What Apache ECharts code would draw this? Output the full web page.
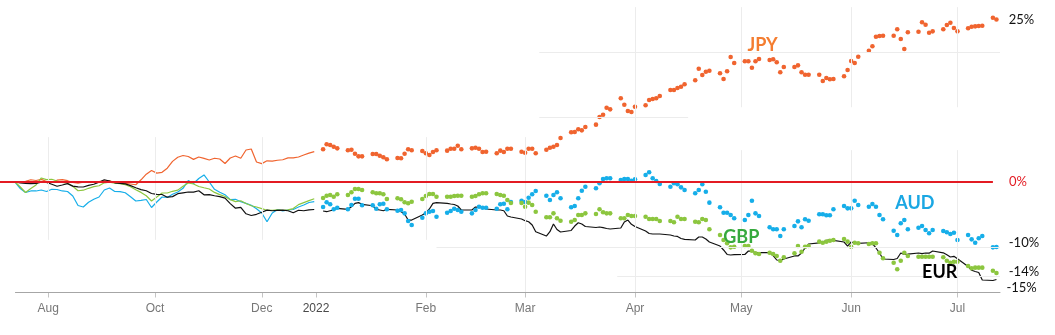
<!DOCTYPE html>
<html>
<head>
<meta charset="utf-8">
<script src="https://cdn.jsdelivr.net/npm/echarts@6.0.0/dist/echarts.min.js"></script>
<style>
  html, body { margin: 0; padding: 0; background: #fff; }
  #chart { width: 1055px; height: 335px; }
</style>
</head>
<body>
<div id="chart"></div>
<script>
// Currencies against the US dollar, % change since mid-July 2021.
// Second half of 2021 is drawn as thin lines on a compressed scale,
// 2022 as daily dots (EUR stays a line) on a wider scale.

const DAY = 86400000;
function ts(s) { const p = s.split('-').map(Number); return new Date(p[0], p[1] - 1, p[2]).getTime(); }
function everyNDays(start, step, count) {
  const out = []; const t0 = ts(start);
  for (let i = 0; i < count; i++) out.push(t0 + i * step * DAY);
  return out;
}
function weekdays(start, count) {
  const out = []; let d = new Date(ts(start));
  while (out.length < count) {
    const wd = d.getDay();
    if (wd !== 0 && wd !== 6) out.push(d.getTime());
    d = new Date(d.getFullYear(), d.getMonth(), d.getDate() + 1);
  }
  return out;
}

// ---- x domains ----
const dates2021 = everyNDays('2021-07-13', 3, 58);
const dates2022 = weekdays('2022-01-03', 137);

// ---- tick labels ----
const MONTHS = ['Jan','Feb','Mar','Apr','May','Jun','Jul','Aug','Sep','Oct','Nov','Dec'];
const ticks2021 = ['2021-08-01', '2021-10-01', '2021-12-01'];
const ticks2022 = ['2022-01-01', '2022-02-01', '2022-03-01', '2022-04-01', '2022-05-01', '2022-06-01', '2022-07-01'];

// ---- 2021 (% change) ----
const jpy2021 = [0,0,0.12,0.35,0.23,0.40,0.08,-0.08,0.28,0.37,
  0.20,-0.08,-0.17,-0.02,0.05,0.05,0.05,0.17,0.20,-0.08,
  -0.11,-0.20,-0.31,-0.42,0.34,1.20,1.77,1.37,1.49,2.12,
  3.17,3.80,4.08,3.92,3.48,3.85,3.63,3.38,3.65,3.54,
  2.85,3.69,4.00,3.65,4.92,5.08,3.08,2.83,3.26,3.20,
  3.35,3.42,3.71,3.72,3.85,4.15,4.45,4.68];
const aud2021 = [0,-1.00,-1.62,-1.38,-1.38,-1.23,-1.46,-1.12,-1.15,-1.38,
  -1.46,-2.15,-3.62,-3.85,-3.12,-2.66,-2.31,-1.23,-0.92,-1.46,
  -1.49,-1.65,-2.26,-2.92,-2.82,-2.69,-3.92,-3.08,-2.31,-2.38,
  -1.89,-1.54,-0.97,0.23,-0.23,0.54,1.08,0.00,-1.12,-1.57,
  -1.95,-2.71,-2.66,-3.03,-3.29,-3.58,-4.12,-4.77,-6.12,-4.77,
  -4.23,-4.43,-4.31,-4.23,-3.85,-3.54,-3.15,-3.03];
const gbp2021 = [0,-0.77,-1.62,-1.00,-0.46,0.62,0.37,0.42,0.15,-0.08,
  -0.18,-0.65,-1.35,-1.26,-0.97,-0.72,-0.58,-0.12,-0.03,-0.18,
  -0.26,-0.42,-0.74,-1.20,-1.60,-2.12,-2.92,-2.31,-1.69,-1.69,
  -1.43,-1.25,-0.66,-0.15,-0.31,-0.69,-0.89,-1.08,-1.60,-1.95,
  -2.23,-2.72,-3.02,-2.88,-3.31,-3.66,-3.85,-4.09,-4.34,-4.38,
  -4.29,-4.37,-4.29,-4.09,-3.48,-3.17,-2.86,-2.58];
const eur2021 = [0,-0.15,-0.20,-0.25,-0.20,-0.02,-0.05,-0.34,-0.65,-0.46,
  -0.25,-0.63,-0.74,-0.77,-0.51,-0.35,-0.03,0.35,0.15,-0.12,
  -0.20,-0.28,-0.55,-0.89,-1.17,-1.35,-1.77,-1.91,-1.92,-2.34,
  -2.25,-1.80,-1.66,-1.54,-1.55,-1.35,-1.97,-1.94,-2.12,-2.25,
  -2.48,-3.32,-4.03,-3.89,-4.89,-5.15,-4.97,-4.65,-4.32,-4.42,
  -4.38,-4.34,-4.42,-4.74,-4.35,-4.42,-4.28,-4.23];

// ---- 2022 daily (% change) ----
const jpy2022 = [5.03,5.80,5.69,5.43,5.18,4.88,4.97,4.35,3.95,3.95,
  4.31,4.31,4.05,3.80,3.49,3.69,3.65,4.35,5.03,4.88,
  4.77,4.42,4.15,4.62,4.88,4.82,5.12,5.12,5.58,5.03,
  5.18,5.28,5.12,4.62,4.66,4.42,4.82,4.62,5.12,5.12,
  4.66,4.51,5.12,5.12,4.42,4.97,5.28,5.43,5.69,6.77,
  7.65,7.69,8.11,7.95,8.46,8.82,10.00,10.35,11.43,11.18,
  12.88,11.89,10.92,10.77,11.58,11.80,12.62,12.77,12.88,13.23,
  14.15,14.15,14.46,14.66,15.03,15.65,17.43,16.46,16.97,17.12,
  16.72,15.85,17.03,19.23,18.31,18.57,18.57,17.58,18.57,18.92,
  18.77,18.88,18.42,16.88,17.69,17.69,17.95,16.88,16.51,16.51,
  16.51,15.54,16.00,15.80,15.85,16.26,17.23,18.62,18.31,19.28,
  20.20,20.88,22.35,22.46,22.51,22.51,23.49,22.00,20.46,23.03,
  23.12,24.57,24.20,22.97,23.18,23.49,24.15,24.51,23.69,23.18,
  23.65,23.89,23.95,24.00,24.05,25.28,25];
const aud2022 = [-3.85,-3.12,-3.43,-4.20,-3.95,-4.20,-3.54,-2.57,-2.57,-3.58,
  -3.58,-4.11,-3.43,-3.34,-4.20,-4.42,-4.31,-4.82,-6.00,-6.62,
  -5.49,-4.82,-4.57,-4.46,-5.34,-4.72,-4.46,-4.11,-4.31,-4.57,
  -4.82,-4.31,-3.80,-3.95,-3.95,-4.11,-3.43,-3.34,-4.20,-3.08,
  -2.88,-3.08,-2.42,-1.89,-1.38,-2.11,-2.77,-2.00,-1.58,-2.51,
  -3.89,-3.69,-2.51,-1.34,-0.72,-0.97,-0.20,0.46,0.57,0.57,
  0.31,0.46,0.46,0.20,0.42,1.08,1.49,0.57,0.15,-0.31,
  -0.72,-0.20,-0.35,-0.82,-1.23,-1.74,-1.23,-0.35,-1.49,-3.18,
  -3.89,-4.72,-4.72,-5.08,-5.58,-5.85,-5.08,-2.88,-4.82,-5.23,
  -6.97,-7.28,-7.28,-8.31,-7.28,-6.77,-6.05,-6.97,-5.74,-5.95,
  -4.97,-4.97,-5.12,-5.12,-4.20,-3.69,-4.05,-4.05,-2.88,-3.54,
  -3.80,-3.38,-3.80,-5.08,-5.74,-7.49,-8.15,-6.35,-5.85,-7.28,
  -7.03,-6.77,-7.38,-7.89,-7.38,-7.54,-7.74,-8.00,-7.80,-8.92,
  -8.15,-8.82,-9.34,-8.66,-8.31,-10.05,-10];
const gbp2022 = [-2.46,-2.11,-2.00,-2.26,-1.89,-2.00,-1.58,-1.08,-1.08,-1.23,
  -1.58,-1.74,-1.74,-1.89,-2.62,-2.51,-2.66,-3.12,-3.28,-3.03,
  -2.62,-2.15,-1.85,-1.85,-2.26,-2.26,-2.26,-2.15,-2.11,-2.11,
  -2.26,-2.15,-1.89,-1.74,-1.74,-1.85,-2.00,-2.11,-2.77,-3.23,
  -3.23,-3.80,-3.18,-3.54,-4.57,-5.43,-5.43,-4.82,-5.58,-5.95,
  -6.11,-5.85,-5.08,-5.08,-4.82,-4.92,-4.20,-4.66,-4.82,-4.82,
  -5.58,-5.58,-5.08,-5.23,-5.23,-5.34,-5.69,-5.69,-5.69,-6.00,
  -6.00,-6.20,-5.34,-5.69,-5.69,-6.11,-6.20,-5.69,-5.85,-7.28,
  -8.15,-8.92,-9.43,-10.05,-9.95,-9.85,-9.85,-10.57,-10.97,-11.08,
  -10.88,-11.08,-11.38,-12.11,-11.58,-10.97,-9.85,-10.72,-9.95,-9.85,
  -9.18,-9.34,-9.18,-9.03,-8.92,-8.77,-9.18,-9.95,-9.34,-9.43,
  -9.54,-9.43,-9.43,-10.88,-11.74,-12.42,-13.43,-12.11,-10.88,-11.38,
  -11.49,-11.49,-11.49,-11.49,-11.49,-11.58,-12.11,-12.42,-12.26,-12.26,
  -12.92,-13.28,-13.18,-13.18,-13.18,-13.65,-14];
const eur2022 = [-4.46,-4.57,-4.42,-4.31,-4.05,-4.20,-3.80,-3.28,-3.18,-3.43,
  -3.65,-4.20,-4.31,-4.42,-4.20,-4.31,-4.57,-4.92,-5.85,-5.85,
  -5.08,-4.72,-4.15,-3.28,-3.18,-3.28,-3.38,-3.46,-3.69,-4.31,
  -4.31,-3.85,-3.89,-4.00,-4.15,-4.31,-4.31,-4.42,-5.23,-5.38,
  -5.69,-5.95,-6.11,-6.62,-7.65,-8.31,-7.65,-6.46,-7.31,-7.69,
  -7.46,-6.77,-6.26,-6.46,-6.85,-7.00,-6.92,-7.03,-7.15,-7.23,
  -7.08,-6.15,-5.85,-6.51,-6.85,-7.54,-7.92,-8.00,-8.00,-8.00,
  -8.15,-8.31,-8.38,-8.69,-8.82,-8.92,-8.46,-8.46,-8.77,-9.23,
  -9.85,-10.46,-11.15,-11.23,-11.18,-11.15,-10.62,-10.62,-10.88,-10.88,
  -10.88,-11.31,-12.00,-12.08,-11.85,-11.38,-11.38,-10.92,-10.15,-9.54,
  -9.38,-9.23,-9.00,-8.85,-8.97,-9.23,-9.85,-9.23,-9.38,-9.43,
  -9.35,-9.49,-10.15,-10.92,-11.85,-11.92,-11.77,-10.92,-11.15,-11.11,
  -10.92,-11.03,-10.92,-10.95,-10.62,-10.89,-11.18,-11.54,-11.43,-11.80,
  -13.00,-13.58,-13.77,-13.92,-15.08,-15.15,-15];

// ---- styling / layout ----
const COLORS = { JPY: '#f0642f', AUD: '#16aee9', GBP: '#8cc63f', EUR: '#111111', zero: '#e31b23' };
const NAME_COLORS = { JPY: '#f47d30', AUD: '#1aa7e3', GBP: '#36a93d', EUR: '#000000' };
const Y_MIN = -17, Y_MAX = 27;
const START_2021 = ts('2021-07-13') - 8.6 * DAY;   // leaves room for the zero line on the left
const END_2022 = ts('2022-07-13');
const GRID_COLOR = '#ececec';
const AXIS_COLOR = '#a6a6a6';

// light grid fragments: [date, fromValue, toValue] and [value, fromDate, toDate]
const vGridA = [['2021-08-01', 6.9, -8.9], ['2021-10-01', 6.9, -8.9], ['2021-12-01', 6.9, -8.9]];
const vGridB = [['2022-02-01', 6.9, -8.9], ['2022-03-01', 6.9, -17], ['2022-04-01', 26.9, -17],
  ['2022-05-01', 26.9, 11.5], ['2022-05-01', 4.9, -17],
  ['2022-06-01', 26.9, 11.5], ['2022-06-01', 4.9, -17],
  ['2022-07-01', 26.9, 11.5], ['2022-07-01', 4.9, -17]];
const hGridB = [[20, '2022-03-05', '2022-07-13'], [10, '2022-03-05', '2022-04-16'],
  [-10, '2022-02-04', '2022-07-13'], [-14.5, '2022-03-27', '2022-07-13']];

// name tags placed in data space
const nameTags = { JPY: ['2022-05-07', 21.1], AUD: ['2022-06-19', -3.2], GBP: ['2022-05-01', -8.5], EUR: ['2022-06-26', -13.8] };

const pctFmt = p => p.value[1] + '%';
const endLabelBase = { show: true, position: 'right', distance: 10, formatter: pctFmt,
  fontFamily: 'Lato', fontSize: 13, color: '#111' };

function pairs(dates, values) { return values.map((v, i) => [dates[i], v]); }
function withEndLabel(dates, values, extra) {
  const d = pairs(dates, values);
  const last = d.length - 1;
  d[last] = { value: d[last], label: Object.assign({}, endLabelBase, extra || {}) };
  return d;
}
function vSeg(spec) {
  return spec.map(([d, a, b]) => [{ coord: [ts(d), a] }, { coord: [ts(d), b] }]);
}
function hSeg(spec) {
  return spec.map(([v, a, b]) => [{ coord: [ts(a), v] }, { coord: [ts(b), v] }]);
}
function nameTag(key) {
  const [d, v] = nameTags[key];
  return {
    symbol: 'circle', symbolSize: 1, itemStyle: { color: 'rgba(0,0,0,0)' }, silent: true,
    label: { show: true, position: 'inside', formatter: key, fontFamily: 'Lato', fontWeight: 'bold',
      fontSize: 18, color: NAME_COLORS[key] },
    data: [{ coord: [ts(d), v] }]
  };
}
function lineSeries(name, axis, dates, values, color) {
  return { name, type: 'line', xAxisIndex: axis, yAxisIndex: axis, data: pairs(dates, values),
    showSymbol: false, lineStyle: { color, width: 1.2 }, itemStyle: { color }, z: 3, silent: true };
}
function dotSeries(name, dates, values, color, labelExtra) {
  return { name, type: 'scatter', xAxisIndex: 1, yAxisIndex: 1,
    data: withEndLabel(dates, values, labelExtra), symbolSize: 4.6,
    itemStyle: { color, opacity: 1 }, z: 3, silent: true, markPoint: nameTag(name) };
}

const axisLabelBase = { fontFamily: 'Liberation Sans', fontSize: 12, color: '#777', margin: 10,
  showMinLabel: true, showMaxLabel: true, hideOverlap: false };
const tickBase = { show: true, inside: false, length: 5, lineStyle: { color: '#c4c4c4', width: 1 } };

// tick marks at month starts (drawn as segments below the axis line)
function tickSegs(list) {
  return list.map(d => [{ coord: [ts(d), Y_MIN], lineStyle: { color: '#c4c4c4', width: 1, type: 'solid' } },
                        { coord: [ts(d), Y_MIN - 0.8] }]);
}

const option = {
  animation: false,
  grid: [
    { left: 0, top: 6.5, width: 316, height: 286 },
    { left: 316, top: 6.5, width: 684, height: 286 }
  ],
  xAxis: [
    { type: 'value', gridIndex: 0, min: START_2021, max: ts('2022-01-01'),
      axisLine: { show: false, onZero: false }, splitLine: { show: false },
      axisTick: Object.assign({ customValues: ticks2021.map(ts) }, tickBase),
      axisLabel: Object.assign({ customValues: ticks2021.map(ts),
        formatter: v => MONTHS[new Date(v).getMonth()] }, axisLabelBase) },
    { type: 'value', gridIndex: 1, min: ts('2022-01-01'), max: END_2022,
      axisLine: { show: true, onZero: false, lineStyle: { color: AXIS_COLOR, width: 1 } }, splitLine: { show: false },
      axisTick: Object.assign({ customValues: ticks2022.map(ts) }, tickBase),
      axisLabel: Object.assign({ customValues: ticks2022.map(ts),
        formatter: v => { const d = new Date(v); return d.getMonth() === 0 ? '{yr|' + d.getFullYear() + '}' : MONTHS[d.getMonth()]; },
        rich: { yr: { fontFamily: 'Liberation Sans', fontSize: 12, color: '#4a4a4a' } } }, axisLabelBase) }
  ],
  yAxis: [
    { type: 'value', gridIndex: 0, min: Y_MIN, max: Y_MAX, show: false, splitLine: { show: false } },
    { type: 'value', gridIndex: 1, min: Y_MIN, max: Y_MAX, show: false, splitLine: { show: false } }
  ],
  series: [
    // grid fragments, axis line and ticks under the 2021 part
    { name: 'grid2021', type: 'line', xAxisIndex: 0, yAxisIndex: 0, data: [], z: 1, silent: true,
      markLine: { silent: true, symbol: ['none', 'none'], label: { show: false },
        lineStyle: { color: GRID_COLOR, width: 1, type: 'solid' },
        data: vSeg(vGridA).concat([[
          { coord: [ts('2021-07-13'), Y_MIN], lineStyle: { color: AXIS_COLOR, width: 1, type: 'solid' } },
          { coord: [ts('2022-01-01'), Y_MIN] }]]).concat(tickSegs(ticks2021)) } },
    { name: 'grid2022', type: 'line', xAxisIndex: 1, yAxisIndex: 1, data: [], z: 1, silent: true,
      markLine: { silent: true, symbol: ['none', 'none'], label: { show: false },
        lineStyle: { color: GRID_COLOR, width: 1, type: 'solid' },
        data: vSeg(vGridB).concat(hSeg(hGridB)).concat(tickSegs(ticks2022)).concat([[
          { coord: [ts('2022-01-01'), Y_MIN], lineStyle: { color: AXIS_COLOR, width: 1, type: 'solid' } },
          { coord: [END_2022, Y_MIN] }]]) } },

    lineSeries('JPY', 0, dates2021, jpy2021, COLORS.JPY),
    lineSeries('AUD', 0, dates2021, aud2021, COLORS.AUD),
    lineSeries('GBP', 0, dates2021, gbp2021, COLORS.GBP),
    lineSeries('EUR', 0, dates2021, eur2021, COLORS.EUR),

    dotSeries('JPY', dates2022, jpy2022, COLORS.JPY),
    dotSeries('AUD', dates2022, aud2022, COLORS.AUD, { offset: [0, -4] }),
    dotSeries('GBP', dates2022, gbp2022, COLORS.GBP, { offset: [0, -1] }),
    { name: 'EUR', type: 'line', xAxisIndex: 1, yAxisIndex: 1, data: pairs(dates2022, eur2022),
      showSymbol: false, lineStyle: { color: COLORS.EUR, width: 1.2 }, itemStyle: { color: COLORS.EUR },
      z: 3, silent: true,
      endLabel: { show: true, formatter: pctFmt, distance: 10, offset: [0, 8],
        fontFamily: 'Lato', fontSize: 13, color: '#111' },
      markPoint: nameTag('EUR') },

    // zero reference line
    { name: 'zero2021', type: 'line', xAxisIndex: 0, yAxisIndex: 0, data: [], z: 5, silent: true,
      markLine: { silent: true, symbol: ['none', 'none'], label: { show: false },
        lineStyle: { color: COLORS.zero, width: 2, type: 'solid' },
        data: [[{ coord: [START_2021, 0] }, { coord: [ts('2022-01-01'), 0] }]] } },
    { name: 'zero2022', type: 'line', xAxisIndex: 1, yAxisIndex: 1, data: [], z: 5, silent: true,
      markLine: { silent: true, symbol: ['none', 'none'],
        lineStyle: { color: COLORS.zero, width: 2, type: 'solid' },
        label: { show: true, position: 'end', distance: 16, formatter: '0%',
          fontFamily: 'Lato', fontSize: 13, color: COLORS.zero },
        data: [[{ coord: [ts('2022-01-01'), 0] }, { coord: [ts('2022-07-11'), 0] }]] } }
  ]
};

const chart = echarts.init(document.getElementById('chart'), null, { renderer: 'canvas' });
chart.setOption(option);
</script>
</body>
</html>
